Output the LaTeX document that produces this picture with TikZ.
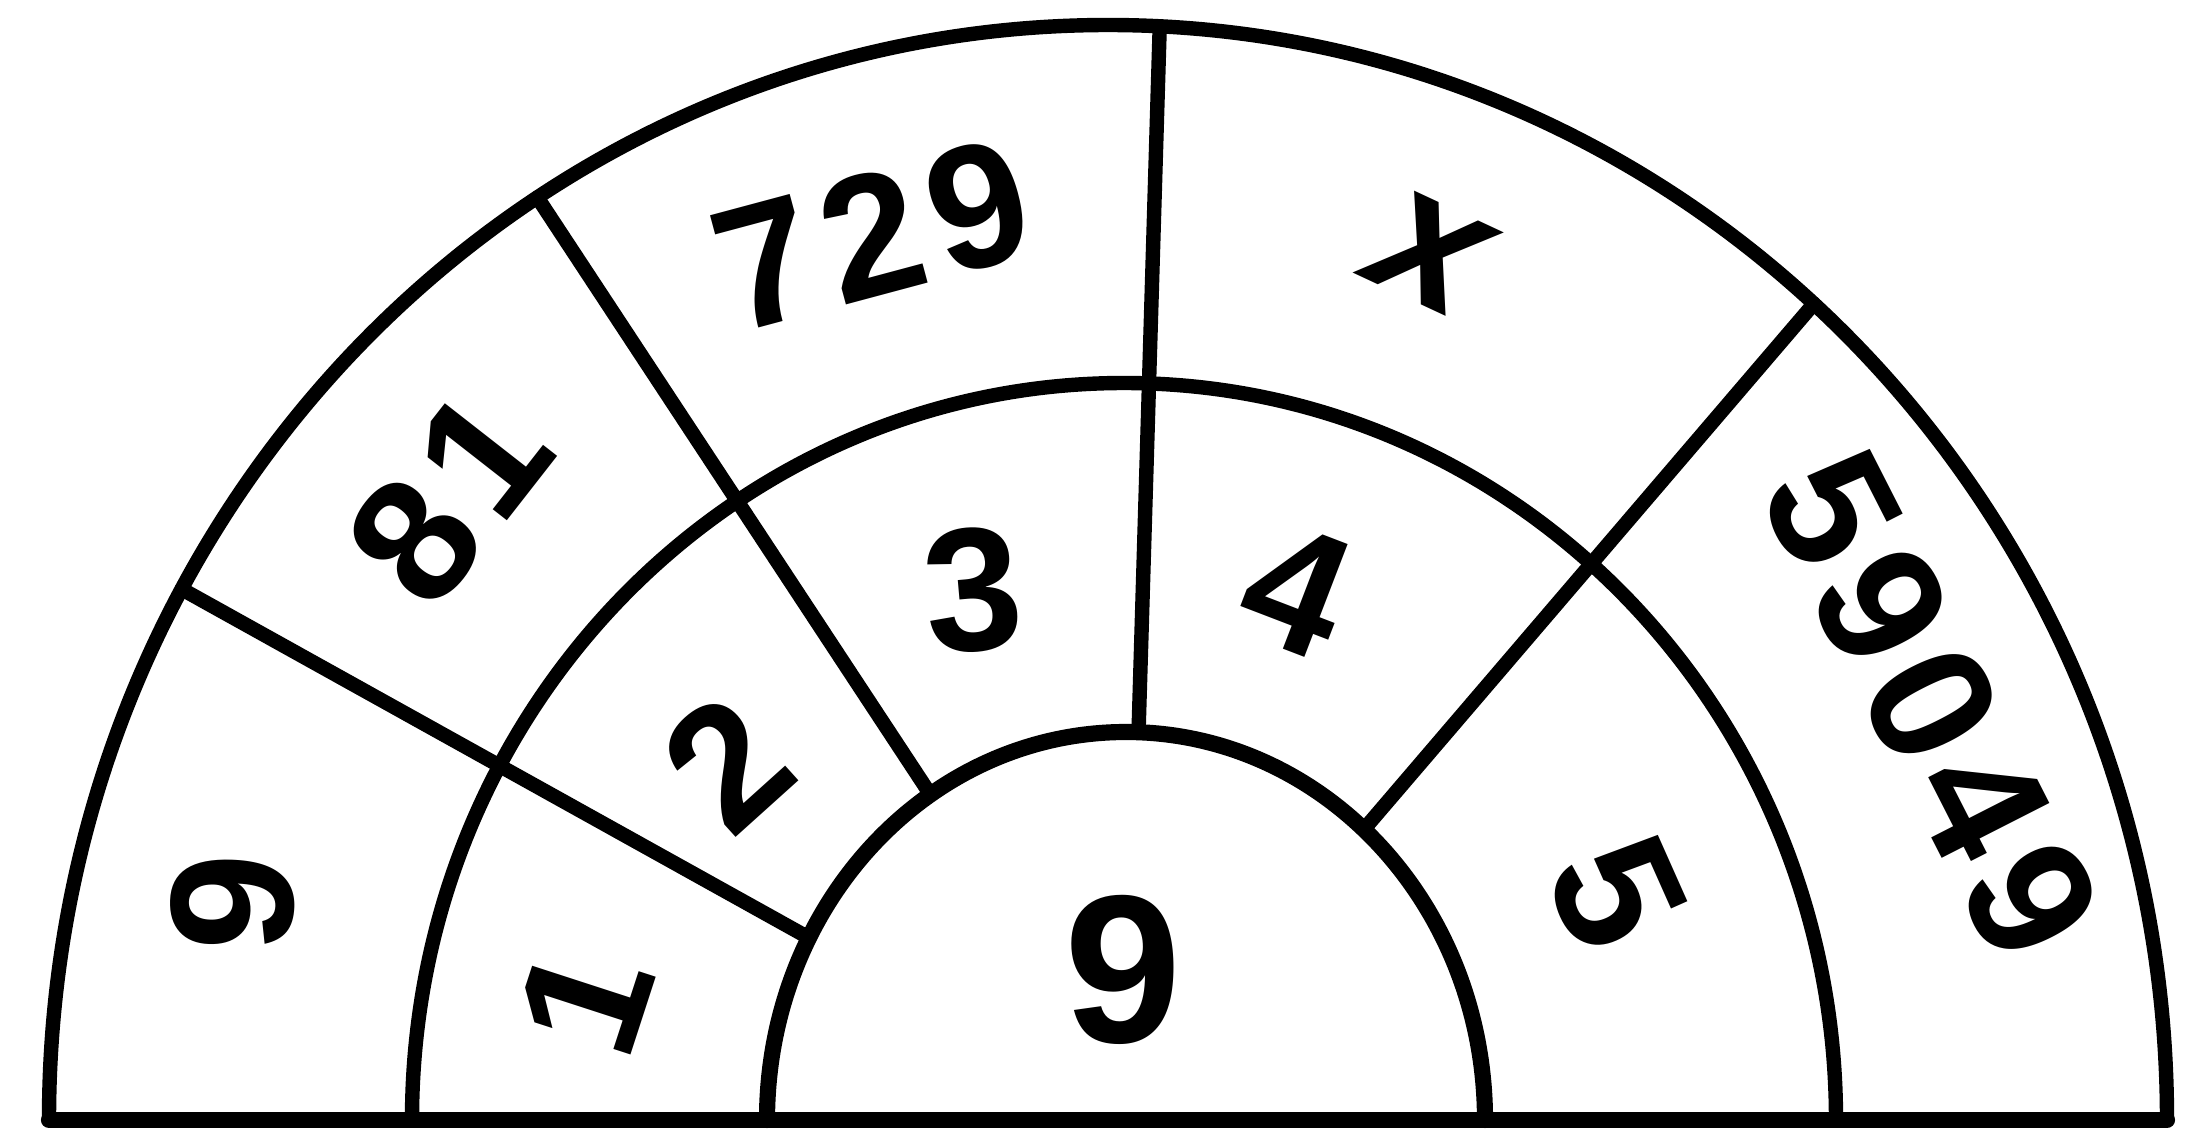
\documentclass[tikz,border=0pt]{standalone}
\usepackage{fontspec}
\setmainfont{Liberation Sans}
\usetikzlibrary{calc}
\begin{document}
\begin{tikzpicture}[line width=4.1pt, line join=round, line cap=round,
  lab/.style={font={\fontsize{50}{50}\selectfont\bfseries\addfontfeature{LetterSpace=7}}, inner sep=0pt},
  biglab/.style={font={\fontsize{60}{60}\selectfont\bfseries}, inner sep=0pt},
  xlab/.style={font={\fontsize{54}{54}\selectfont\bfseries\itshape}, inner sep=0pt}]
\useasboundingbox (0,0) rectangle (22.07,11.39);
% centres of the three semicircles
\coordinate (c1) at (11.08,0.19);
\coordinate (c2) at (11.24,0.19);
\coordinate (c3) at (11.26,0.19);
% base line
\coordinate (bl) at ($(c1)+(180:10.59 and 10.95)$);
\coordinate (br) at ($(c1)+(0:10.59 and 10.95)$);
\draw[line width=4.6pt] (bl) -- (br);
% arcs
\draw (bl) arc[start angle=180,end angle=0,x radius=10.59,y radius=10.95];
\draw ($(c2)+(180:7.12 and 7.37)$) arc[start angle=180,end angle=0,x radius=7.12,y radius=7.37];
\draw[line width=4.6pt] ($(c3)+(180:3.59 and 3.88)$) arc[start angle=180,end angle=0,x radius=3.59,y radius=3.88];
% radial dividers
\coordinate (o151) at ($(c1)+(151:10.59 and 10.95)$);
\coordinate (i151) at ($(c3)+(152:3.59 and 3.88)$);
\coordinate (o123) at ($(c1)+(122.6:10.59 and 10.95)$);
\coordinate (i123) at ($(c3)+(123:3.59 and 3.88)$);
\coordinate (o87) at ($(c1)+(87.2:10.59 and 10.95)$);
\coordinate (i87) at ($(c3)+(88:3.59 and 3.88)$);
\coordinate (o49) at ($(c1)+(48.2:10.59 and 10.95)$);
\coordinate (i49) at ($(c3)+(48.5:3.59 and 3.88)$);
\draw (o151) -- (i151);
\draw (o123) -- (i123);
\draw (o87) -- (i87);
\draw (o49) -- (i49);
% outer ring labels
\node[lab, rotate=88] (t9) at (2.33,2.36) {9};
\node[lab, rotate=52] (t81) at (4.49,6.42) {81};
\node[lab, rotate=15] (t729) at (8.72,9.04) {729};
\node[xlab, rotate=-25] (tx) at (14.30,8.86) {x};
\node[lab, rotate=-63] (t59049) at (19.32,4.34) {59049};
% middle ring labels
\node[lab, rotate=72] (m1) at (5.85,1.39) {1};
\node[lab, rotate=42] (m2) at (7.27,3.76) {2};
\node[lab, rotate=5] (m3) at (9.73,5.49) {3};
\node[lab, rotate=-21] (m4) at (12.97,5.49) {4};
\node[lab, rotate=-66] (m5) at (16.17,2.46) {5};
% centre label
\node[biglab] (c9) at (11.23,1.69) {9};
\end{tikzpicture}
\end{document}
